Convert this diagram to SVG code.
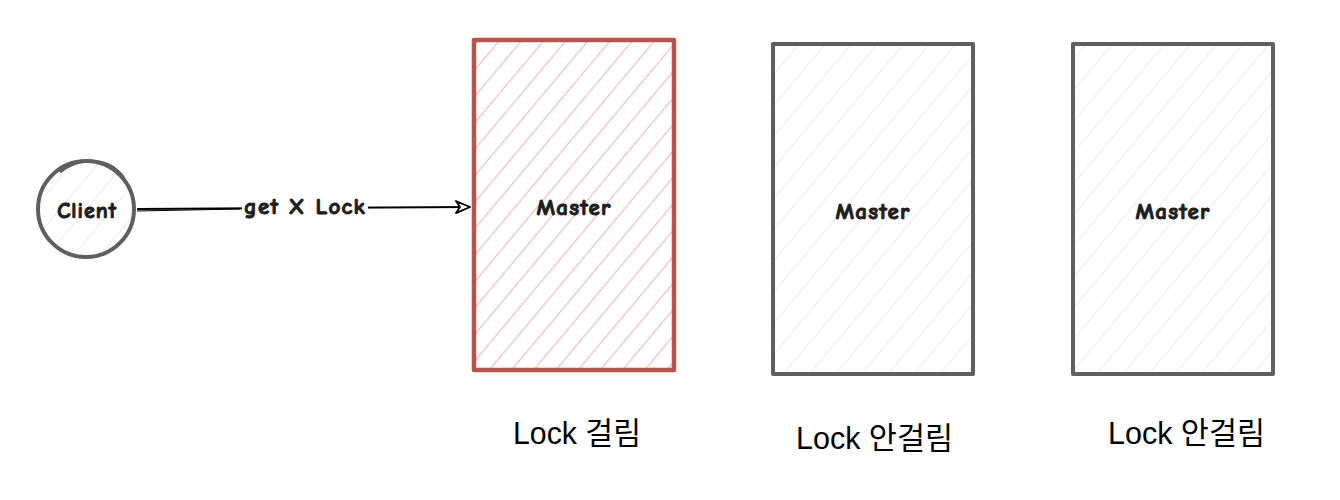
<svg xmlns="http://www.w3.org/2000/svg" width="1340" height="500" viewBox="0 0 1340 500">
<style>
.hand{font-family:"Comic Neue","Liberation Sans","Noto Sans",sans-serif;font-weight:bold;font-size:23px;letter-spacing:1.2px;fill:#1e1e1e;stroke:#1e1e1e;stroke-width:1;text-anchor:middle;dominant-baseline:central}
.cap{font-family:"Liberation Sans","Noto Sans CJK KR",sans-serif;font-size:31px;fill:#000}
.gbox{fill:url(#hg);stroke:#5f5f5f;stroke-width:4;stroke-linejoin:round}
.rbox{fill:url(#hr);stroke:#b9534f;stroke-width:4.5;stroke-linejoin:round}
</style>
<defs>
<pattern id="hr" patternUnits="userSpaceOnUse" width="17" height="20" patternTransform="rotate(40)">
<line x1="0" y1="0" x2="0" y2="20" stroke="#f2c0bd" stroke-width="2.6"/>
</pattern>
<pattern id="hg" patternUnits="userSpaceOnUse" width="20" height="20" patternTransform="rotate(40)">
<line x1="0" y1="0" x2="0" y2="20" stroke="#ececec" stroke-width="2"/>
</pattern>
<marker id="ah" markerWidth="16" markerHeight="14" refX="15" refY="7" orient="auto" markerUnits="userSpaceOnUse">
<path d="M1,1 L15,7 L1,13 L5,7 Z" fill="#fff" stroke="#000" stroke-width="1.8" stroke-linejoin="round"/>
</marker>
</defs>
<g id="connectors">
<path d="M137,209 L470,207" fill="none" stroke="#000" stroke-width="2" marker-end="url(#ah)"/>
<path d="M137,211 L240,209" fill="none" stroke="#000" stroke-width="1"/>
<rect x="242" y="194" width="126" height="26" fill="#fff"/>
<text class="hand" x="305" y="206">get X Lock</text>
</g>
<g id="client">
<circle cx="86" cy="209" r="48" fill="url(#hg)" stroke="#5f5f5f" stroke-width="4"/>
<path d="M60,172 C80,155 110,158 124,178" fill="none" stroke="#5f5f5f" stroke-width="3"/>
<text class="hand" x="87" y="211" style="font-size:22px;letter-spacing:1px">Client</text>
</g>
<g id="master1">
<rect class="rbox" x="474" y="40" width="200" height="330"/>
<text class="hand" x="574" y="207">Master</text>
</g>
<g id="master2">
<rect class="gbox" x="773" y="44" width="200" height="330"/>
<text class="hand" x="873" y="211">Master</text>
</g>
<g id="master3">
<rect class="gbox" x="1073" y="44" width="200" height="330"/>
<text class="hand" x="1173" y="211">Master</text>
</g>
<g id="labels">
<text class="cap" x="513" y="444" textLength="128" lengthAdjust="spacingAndGlyphs">Lock 걸림</text>
<text class="cap" x="796" y="449" textLength="157" lengthAdjust="spacingAndGlyphs">Lock 안걸림</text>
<text class="cap" x="1108" y="444" textLength="157" lengthAdjust="spacingAndGlyphs">Lock 안걸림</text>
</g>
</svg>
